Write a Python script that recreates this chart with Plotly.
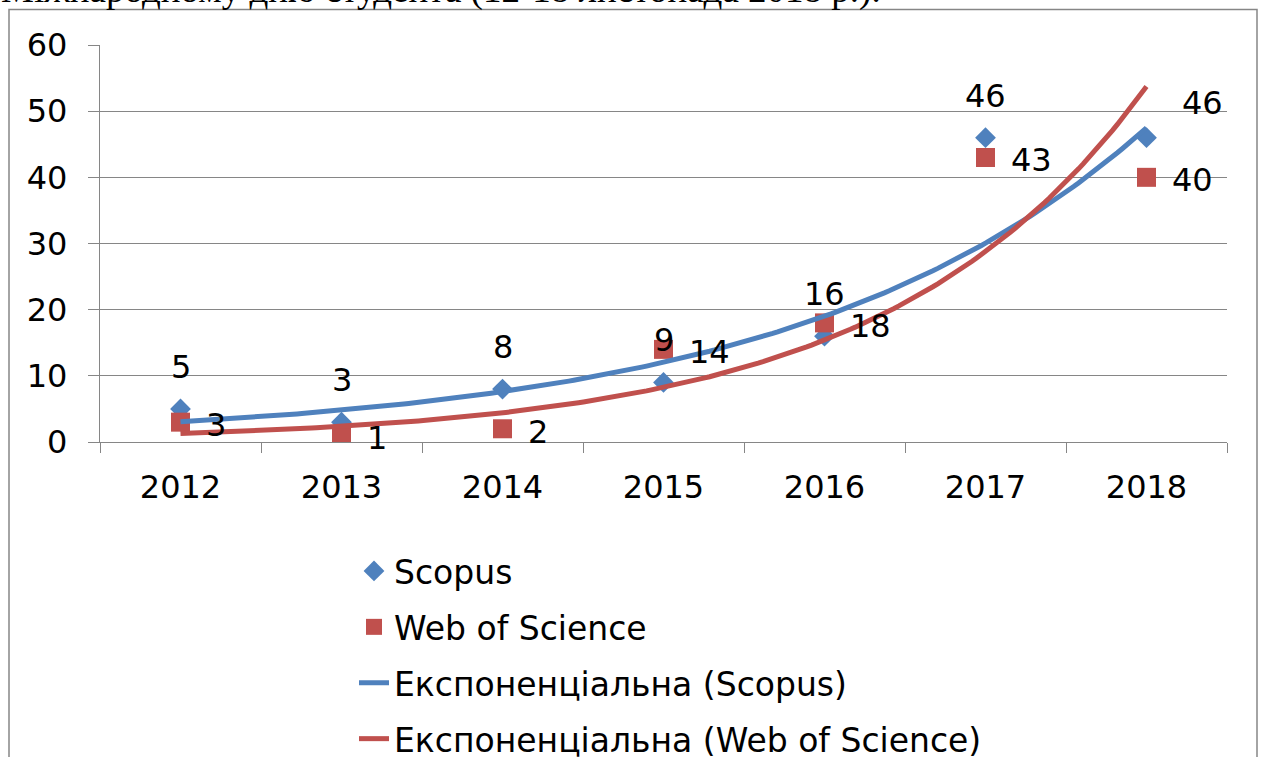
import numpy as np
import plotly.graph_objects as go

years = ["2012", "2013", "2014", "2015", "2016", "2017", "2018"]
scopus = [5, 3, 8, 9, 16, 46, 46]
wos = [3, 1, 2, 14, 18, 43, 40]
y_ticks = [0, 10, 20, 30, 40, 50, 60]
names = ["Scopus", "Web of Science",
         "Експоненціальна (Scopus)", "Експоненціальна (Web of Science)"]
header_text = "Міжнародному дню студента (12-18 листопада 2018 р.)."

BLUE = "#4F81BD"
RED = "#C0504D"
GRID = "#868686"
FONT = "DejaVu Sans"
FS = 32
W, H = 1262, 757
L, R, T, B = 100, 35, 45, 315
PW, PH = W - L - R, H - T - B


def px_x(px):
    return (px - L) / PW


def px_y(py):
    return (H - B - py) / PH


idx = np.arange(len(years))


def expfit(vals):
    b, a = np.polyfit(idx, np.log(np.array(vals, dtype=float)), 1)
    xs = np.linspace(0, len(years) - 1, 200)
    return xs, np.exp(a + b * xs)


fig = go.Figure()
fig.add_trace(go.Scatter(x=idx, y=scopus, mode="markers", name=names[0],
                         legendgroup="a",
                         marker=dict(symbol="diamond", size=16, color=BLUE)))
fig.add_trace(go.Scatter(x=idx, y=wos, mode="markers", name=names[1],
                         legendgroup="b",
                         marker=dict(symbol="square", size=19, color=RED)))
xs, ys = expfit(scopus)
fig.add_trace(go.Scatter(x=xs, y=ys, mode="lines", name=names[2], legendgroup="c",
                         line=dict(color=BLUE, width=5)))
xs, ys = expfit(wos)
fig.add_trace(go.Scatter(x=xs, y=ys, mode="lines", name=names[3], legendgroup="d",
                         line=dict(color=RED, width=5)))

ann = []
for i, v in enumerate(scopus):
    if i == len(scopus) - 1:
        ann.append(dict(x=idx[i], y=v, text=str(v), showarrow=False,
                        xanchor="left", yanchor="middle", xshift=33, yshift=35))
    else:
        ann.append(dict(x=idx[i], y=v, text=str(v), showarrow=False,
                        xanchor="center", yanchor="middle", yshift=42))
for i, v in enumerate(wos):
    ann.append(dict(x=idx[i], y=v, text=str(v), showarrow=False,
                    xanchor="left", yanchor="middle", xshift=23, yshift=-3))
for a in ann:
    a["font"] = dict(family=FONT, size=FS, color="black")
    a["xref"] = "x"
    a["yref"] = "y"

ann.append(dict(text=header_text, xref="paper", yref="paper",
                x=px_x(883), y=px_y(13),
                xanchor="right", yanchor="bottom", showarrow=False,
                font=dict(family="Liberation Serif", size=37, color="black")))

fig.update_layout(
    width=W, height=H,
    margin=dict(l=L, r=R, t=T, b=B, autoexpand=False),
    paper_bgcolor="white", plot_bgcolor="white",
    font=dict(family=FONT, size=FS, color="black"),
    xaxis=dict(range=[-0.5, len(years) - 0.5], tickvals=idx, ticktext=years,
               showline=True, linecolor=GRID, linewidth=1.3, automargin=False,
               ticks="", showgrid=False, zeroline=False, ticklabelstandoff=16,
               minor=dict(tick0=-0.5, dtick=1, ticks="outside", ticklen=10,
                          tickcolor=GRID, tickwidth=1.3, showgrid=False),
               tickfont=dict(family=FONT, size=FS)),
    yaxis=dict(range=[0, 60], tickvals=y_ticks, showline=True, linecolor=GRID,
               linewidth=1.3, ticks="outside", ticklen=11, tickcolor=GRID,
               tickwidth=1.3, gridcolor=GRID, gridwidth=1.3, zeroline=False,
               automargin=False, ticklabelstandoff=14,
               tickfont=dict(family=FONT, size=FS)),
    legend=dict(x=px_x(354), y=px_y(543), xanchor="left",
                yanchor="top", orientation="v",
                tracegroupgap=10,
                font=dict(family=FONT, size=33), bgcolor="rgba(0,0,0,0)"),
    annotations=ann,
    shapes=[dict(type="rect", xref="paper", yref="paper",
                 x0=px_x(9), x1=px_x(1257),
                 y0=px_y(9.5), y1=px_y(800),
                 line=dict(color=GRID, width=1.5), layer="below")],
)

fig.write_html("out.html",
               config={"displayModeBar": False},
               post_script="document.body.style.margin='0';"
                           "document.body.style.overflow='hidden';")
